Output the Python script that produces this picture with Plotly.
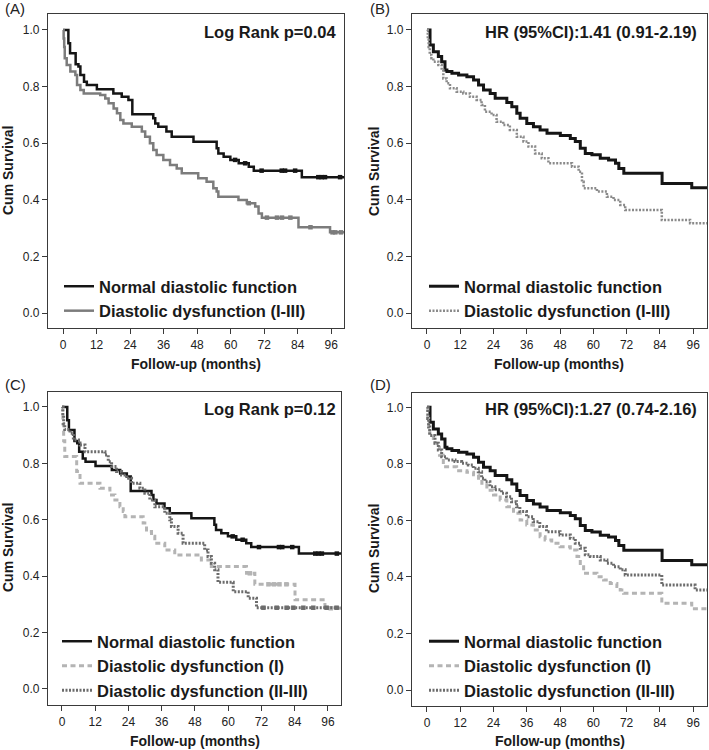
import numpy as np
import plotly.graph_objects as go

FONT = "Liberation Sans, Arial, sans-serif"

# ---------------- data ----------------
NAME_NORMAL = "Normal diastolic function"
NAME_DD = "Diastolic dysfunction (I-III)"
NAME_DD1 = "Diastolic dysfunction (I)"
NAME_DD23 = "Diastolic dysfunction (II-III)"

FOLLOW_END = 101.0
x_ticks = [0, 12, 24, 36, 48, 60, 72, 84, 96]
y_ticks = [0.0, 0.2, 0.4, 0.6, 0.8, 1.0]

# Panel A / C : normal group (Log Rank cohort)
normal_ac_t = [0, 1.9, 2.5, 4.5, 5.5, 6.2, 7.5, 8.5, 12.1, 18, 21, 23.4, 24.8, 32.3, 33,
               34.1, 37, 38.9, 46.7, 55, 55.6, 57.5, 59.9, 62.9, 66.5, 68.3, 85.5]
normal_ac_s = [1.0, 0.953, 0.918, 0.879, 0.871, 0.841, 0.817, 0.806, 0.791, 0.776, 0.764,
               0.753, 0.702, 0.688, 0.670, 0.658, 0.641, 0.623, 0.605, 0.582, 0.564, 0.552,
               0.541, 0.529, 0.517, 0.503, 0.480]
normal_ac_cens = [61.6, 65.2, 71.1, 78.3, 79.5, 83.1, 91.4, 92.6, 93.8, 99.2]

# Panel A : diastolic dysfunction (I-III)
dd_a_t = [0, 0.2, 0.4, 0.6, 1.3, 2.6, 4.4, 5.0, 6.2, 7.4, 13.3, 15.1, 16.3, 18.1, 19.3,
          20.5, 21.6, 24.6, 28.2, 29.4, 31.1, 32.3, 33.5, 35.9, 38.3, 40.7, 42.5, 48.4,
          51.4, 53.8, 55.0, 55.6, 62.8, 65.8, 68.8, 70.0, 71.2, 84.3, 95.6]
dd_a_s = [1.0, 0.97, 0.94, 0.90, 0.876, 0.853, 0.841, 0.806, 0.788, 0.776, 0.770, 0.758,
          0.741, 0.723, 0.706, 0.682, 0.670, 0.658, 0.641, 0.623, 0.600, 0.576, 0.558,
          0.541, 0.523, 0.511, 0.494, 0.476, 0.464, 0.441, 0.429, 0.411, 0.399, 0.388,
          0.376, 0.352, 0.337, 0.303, 0.285]
dd_a_cens = [66.5, 73, 76.6, 78.4, 81.4, 88.6, 96.5, 97.5, 99.5]

# Panel B / D : normal group (HR cohort)
normal_bd_t = [0, 1.1, 2.3, 4.1, 5.3, 6.5, 7.2, 9.0, 11.4, 14.4, 16.8, 18.6, 20.4, 22.8,
               24.6, 28.8, 30.6, 32.4, 33.6, 36.0, 38.4, 40.8, 43.3, 48.1, 51.7, 53.5,
               55.3, 57.1, 59.5, 62.5, 65.5, 68.0, 69.2, 71.0, 84.8, 95.5]
normal_bd_s = [1.0, 0.947, 0.923, 0.906, 0.888, 0.859, 0.853, 0.847, 0.841, 0.835, 0.823,
               0.806, 0.788, 0.776, 0.759, 0.744, 0.729, 0.706, 0.688, 0.670, 0.658, 0.647,
               0.635, 0.627, 0.617, 0.606, 0.582, 0.564, 0.559, 0.547, 0.541, 0.529, 0.511,
               0.494, 0.458, 0.443]

# Panel B : diastolic dysfunction (I-III)
dd_b_t = [0, 0.3, 0.6, 1.0, 1.6, 2.3, 4.1, 5.3, 5.9, 7.1, 8.3, 10.7, 13.1, 15.5, 17.9,
          19.7, 20.9, 23.3, 25.1, 27.5, 29.9, 32.4, 34.8, 36.6, 39.0, 41.4, 43.8, 52.3,
          54.7, 55.9, 56.5, 61.3, 64.9, 67.3, 69.7, 71.5, 84.7, 94.9]
dd_b_s = [1.0, 0.97, 0.94, 0.912, 0.900, 0.888, 0.876, 0.859, 0.829, 0.812, 0.794, 0.782,
          0.776, 0.764, 0.753, 0.735, 0.711, 0.700, 0.676, 0.664, 0.647, 0.623, 0.606,
          0.588, 0.564, 0.547, 0.529, 0.517, 0.499, 0.464, 0.441, 0.429, 0.411, 0.399,
          0.382, 0.364, 0.329, 0.317]

# Panel C : diastolic dysfunction (I) and (II-III)
dd1_c_t = [0, 0.3, 0.6, 1.0, 5.3, 6.5, 13.7, 17.3, 19.1, 20.9, 22.1, 22.7, 29.3, 30.5,
           32.3, 33.5, 37.1, 40.7, 50.3, 53.9, 66.6, 69.6, 84.1, 94.9]
dd1_c_s = [1.0, 0.94, 0.88, 0.824, 0.771, 0.729, 0.712, 0.688, 0.670, 0.646, 0.629, 0.611,
           0.588, 0.558, 0.541, 0.517, 0.493, 0.475, 0.457, 0.434, 0.410, 0.371, 0.316,
           0.286]
dd1_c_cens = [67.8, 74.5, 76.5, 78.5, 81.0, 97.0]

dd23_c_t = [0, 0.3, 0.6, 1.0, 2.9, 4.1, 6.5, 8.3, 15.5, 16.7, 17.9, 19.7, 21.5, 23.3,
            25.1, 28.1, 29.9, 31.7, 33.5, 37.1, 38.9, 39.5, 41.9, 43.7, 51.5, 52.7, 53.9,
            55.1, 56.3, 61.8, 67.2, 70.2]
dd23_c_s = [1.0, 0.97, 0.94, 0.92, 0.907, 0.883, 0.865, 0.841, 0.830, 0.806, 0.789, 0.771,
            0.759, 0.747, 0.729, 0.712, 0.694, 0.670, 0.646, 0.623, 0.600, 0.576, 0.552,
            0.517, 0.493, 0.470, 0.446, 0.423, 0.378, 0.345, 0.322, 0.288]
dd23_c_cens = [72.7, 77.5, 81.1, 83.5, 87.1, 90.7, 95.5, 99.1]

# Panel D : diastolic dysfunction (I) and (II-III)
dd1_d_t = [0, 0.3, 0.6, 1.0, 2.3, 4.5, 5.9, 10.7, 14.4, 16.8, 18.6, 19.8, 21.6, 24.0, 26.4,
           28.8, 31.2, 33.6, 36.0, 38.4, 40.8, 42.6, 45.0, 48.0, 51.7, 54.1, 55.3, 56.5,
           61.3, 63.7, 66.1, 68.5, 69.7, 70.9, 84.7, 95.5]
dd1_d_s = [1.0, 0.96, 0.92, 0.90, 0.873, 0.83, 0.790, 0.776, 0.770, 0.761, 0.743, 0.731,
           0.707, 0.690, 0.672, 0.648, 0.625, 0.601, 0.584, 0.566, 0.542, 0.531, 0.519,
           0.507, 0.495, 0.472, 0.442, 0.413, 0.401, 0.389, 0.377, 0.366, 0.354, 0.342,
           0.307, 0.287]

dd23_d_t = [0, 0.3, 0.6, 1.0, 2.9, 4.1, 5.3, 7.1, 10.1, 12.5, 14.9, 16.7, 18.5, 19.7, 20.9,
            22.7, 24.5, 26.9, 28.7, 30.5, 32.3, 33.5, 35.9, 38.3, 40.7, 43.1, 48.0, 51.7,
            53.5, 55.3, 57.1, 58.9, 62.5, 64.9, 67.3, 69.7, 71.5, 84.7, 96.7]
dd23_d_s = [1.0, 0.96, 0.93, 0.90, 0.873, 0.849, 0.825, 0.814, 0.808, 0.802, 0.796, 0.784,
            0.772, 0.749, 0.737, 0.719, 0.708, 0.696, 0.684, 0.666, 0.648, 0.631, 0.613,
            0.595, 0.578, 0.560, 0.548, 0.537, 0.519, 0.501, 0.478, 0.472, 0.460, 0.448,
            0.436, 0.425, 0.407, 0.371, 0.354]

panel_labels = ["(A)", "(B)", "(C)", "(D)"]
panel_stats = ["Log Rank p=0.04", "HR (95%CI):1.41 (0.91-2.19)",
               "Log Rank p=0.12", "HR (95%CI):1.27 (0.74-2.16)"]
x_title = "Follow-up (months)"
y_title = "Cum Survival"

# ---------------- styling ----------------
BLACK = "#151515"
GRAY_A = "#7c7c7c"
GRAY_B = "#8a8a8a"
LIGHT = "#b4b4b4"
DARK = "#6c6c6c"
DOTS = "2px,1.5px"
DASH = "5px,3.5px"

W, H = 709, 750


def px_x(p):
    return p / W


def px_y(p):
    return 1 - p / H


fig = go.Figure()


def add_curve(panel, t, s, name, color, width, dash="solid", cens=None):
    ax = "" if panel == 1 else str(panel)
    xs = list(t) + [FOLLOW_END]
    ys = list(s) + [s[-1]]
    fig.add_trace(go.Scatter(
        x=xs, y=ys, mode="lines", name=name,
        line=dict(shape="hv", color=color, width=width, dash=dash),
        xaxis="x" + ax, yaxis="y" + ax,
        legend="legend" + ax, hoverinfo="skip"))
    if cens:
        ta = np.array(t)
        idx = np.searchsorted(ta, np.array(cens), side="right") - 1
        cy = np.array(s)[idx]
        fig.add_trace(go.Scatter(
            x=cens, y=cy, mode="markers", showlegend=False,
            marker=dict(symbol="square", size=4.5, color=color),
            xaxis="x" + ax, yaxis="y" + ax, hoverinfo="skip"))


# A
add_curve(1, normal_ac_t, normal_ac_s, NAME_NORMAL, BLACK, 2.5, cens=normal_ac_cens)
add_curve(1, dd_a_t, dd_a_s, NAME_DD, GRAY_A, 2.5, cens=dd_a_cens)
# B
add_curve(2, normal_bd_t, normal_bd_s, NAME_NORMAL, BLACK, 3)
add_curve(2, dd_b_t, dd_b_s, NAME_DD, GRAY_B, 2.5, dash=DOTS)
# C
add_curve(3, normal_ac_t, normal_ac_s, NAME_NORMAL, BLACK, 2.5, cens=normal_ac_cens)
add_curve(3, dd1_c_t, dd1_c_s, NAME_DD1, LIGHT, 3, dash=DASH, cens=dd1_c_cens)
add_curve(3, dd23_c_t, dd23_c_s, NAME_DD23, DARK, 3, dash=DOTS, cens=dd23_c_cens)
# D
add_curve(4, normal_bd_t, normal_bd_s, NAME_NORMAL, BLACK, 3)
add_curve(4, dd1_d_t, dd1_d_s, NAME_DD1, LIGHT, 3, dash=DASH)
add_curve(4, dd23_d_t, dd23_d_s, NAME_DD23, DARK, 3, dash=DOTS)

# ---------------- layout ----------------
frames = {
    # panel: (left, right, top, bottom) in px, x-range, y-range
    1: ((48, 344, 14, 328), [-5.4, 100.6], [-0.053, 1.0565]),
    2: ((412, 707, 14, 328), [-5.4, 101.0], [-0.053, 1.0565]),
    3: ((48, 341, 392, 705), [-5.05, 100.7], [-0.057, 1.053]),
    4: ((412, 707, 393, 706), [-5.4, 101.0], [-0.0566, 1.0506]),
}

axis_common = dict(
    showgrid=False, zeroline=False, showline=True, mirror=True,
    linecolor="#3a3a3a", linewidth=1.2, ticks="outside", ticklen=5,
    tickcolor="#3a3a3a", tickwidth=1,
    tickfont=dict(family=FONT, size=12, color="#222222"),
)

layout = dict(
    width=W, height=H, autosize=False,
    margin=dict(l=0, r=0, t=0, b=0),
    paper_bgcolor="white", plot_bgcolor="white",
    font=dict(family=FONT),
)

legend_pos = {1: (59, 269), 2: (424, 269), 3: (57, 624), 4: (424, 624)}

for p, ((l, r, t, b), xr, yr) in frames.items():
    ax = "" if p == 1 else str(p)
    layout["xaxis" + ax] = dict(
        axis_common, domain=[px_x(l), px_x(r)], range=xr,
        tickvals=x_ticks, anchor="y" + ax)
    layout["yaxis" + ax] = dict(
        axis_common, domain=[px_y(b), px_y(t)], range=yr,
        tickvals=y_ticks, tickformat=".1f", anchor="x" + ax)
    lx, ly = legend_pos[p]
    layout["legend" + ax] = dict(
        x=px_x(lx), y=px_y(ly), xanchor="left", yanchor="top",
        bgcolor="rgba(0,0,0,0)", borderwidth=0, tracegroupgap=0,
        font=dict(family=FONT, size=16.5, color="#1a1a1a", weight="bold"),
    )

fig.update_layout(**layout)

annotations = []
label_pos = [(3, 8), (368, 8), (3, 384), (368, 384)]
stat_pos = [(338, 32), (699, 32), (338, 409), (699, 409)]
xt_pos = [(196, 364), (559, 364), (195, 741), (560, 741)]
yt_pos = [(8, 171), (374, 171), (8, 548), (374, 548)]

for i in range(4):
    annotations.append(dict(
        text=panel_labels[i], x=px_x(label_pos[i][0]), y=px_y(label_pos[i][1]),
        xref="paper", yref="paper", xanchor="left", yanchor="middle",
        showarrow=False, font=dict(family=FONT, size=15, color="#222222")))
    annotations.append(dict(
        text=panel_stats[i], x=px_x(stat_pos[i][0]), y=px_y(stat_pos[i][1]),
        xref="paper", yref="paper", xanchor="right", yanchor="middle",
        showarrow=False,
        font=dict(family=FONT, size=16.5, color="#1a1a1a", weight="bold")))
    annotations.append(dict(
        text=x_title, x=px_x(xt_pos[i][0]), y=px_y(xt_pos[i][1]),
        xref="paper", yref="paper", xanchor="center", yanchor="middle",
        showarrow=False,
        font=dict(family=FONT, size=14, color="#1a1a1a", weight="bold")))
    annotations.append(dict(
        text=y_title, x=px_x(yt_pos[i][0]), y=px_y(yt_pos[i][1]),
        xref="paper", yref="paper", xanchor="center", yanchor="middle",
        textangle=-90, showarrow=False,
        font=dict(family=FONT, size=14, color="#1a1a1a", weight="bold")))

fig.update_layout(annotations=annotations)

fig.write_html(
    "out.html",
    config={"displayModeBar": False, "staticPlot": True},
    post_script="document.body.style.margin='0';document.body.style.padding='0';"
                "document.body.style.overflow='hidden';",
)
